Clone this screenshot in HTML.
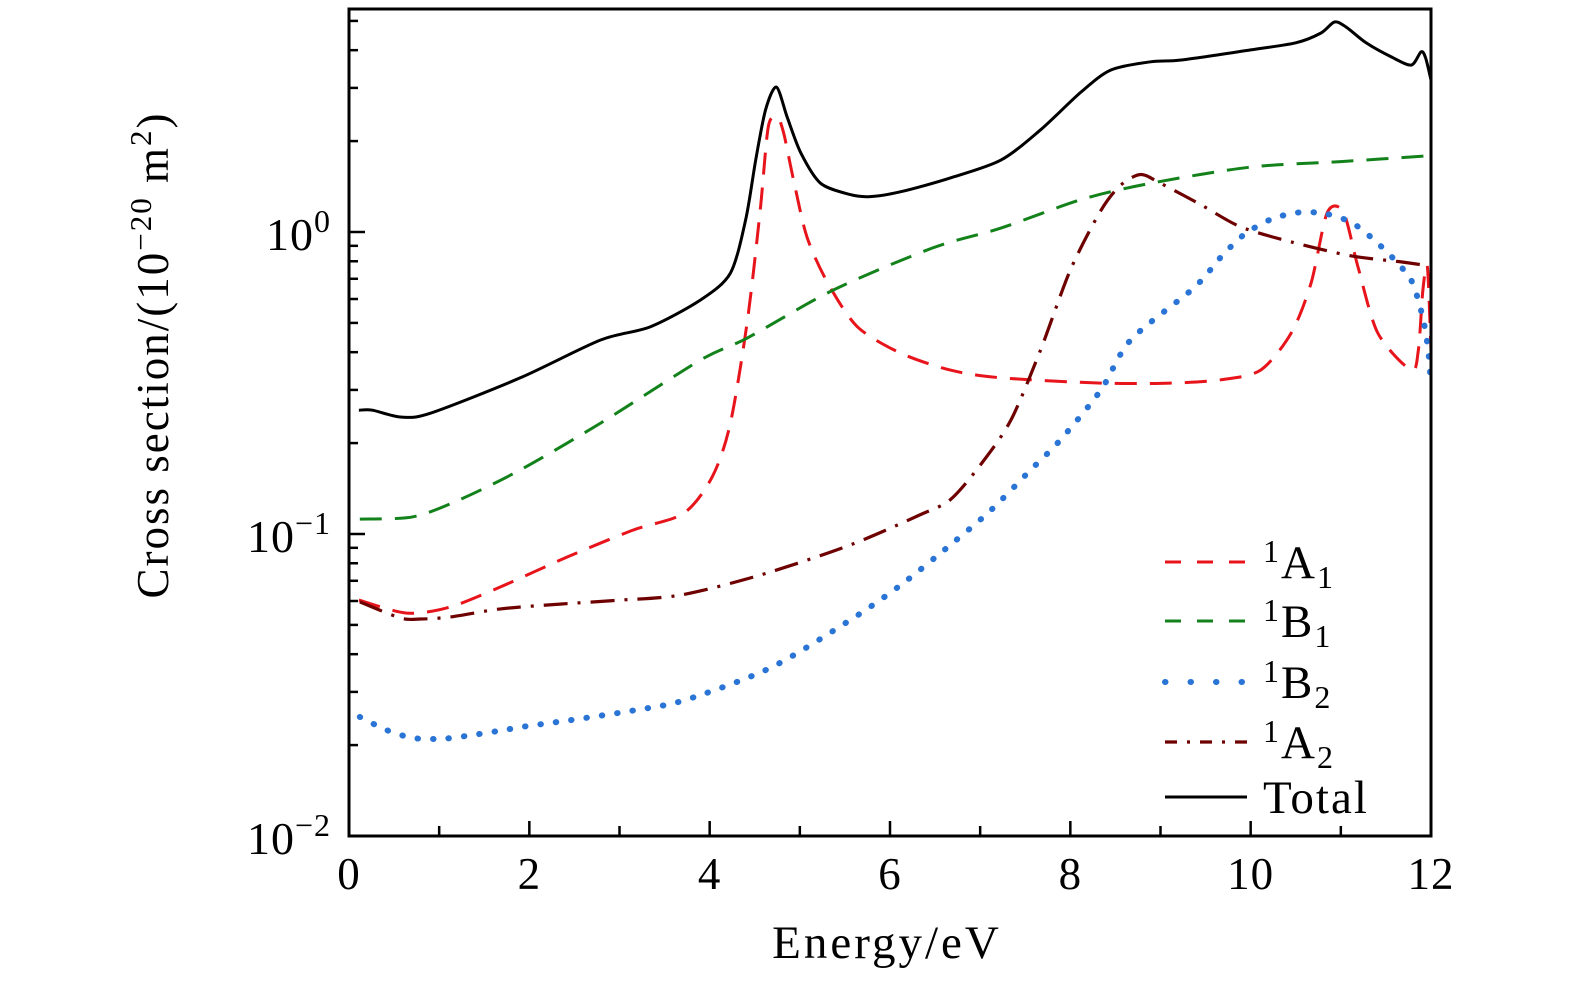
<!DOCTYPE html>
<html><head><meta charset="utf-8"><style>
html,body{margin:0;padding:0;background:#fff;}
svg{display:block;font-family:"Liberation Serif",serif;}
</style></head><body>
<svg id="chart" width="1575" height="984" viewBox="0 0 1575 984" xmlns="http://www.w3.org/2000/svg">
<g id="series"></g>
<g id="axes"></g>
<g id="legend"></g>
<text x="887" y="958" font-size="47" letter-spacing="3" text-anchor="middle">Energy/eV</text>
<text transform="translate(168,355) rotate(-90)" font-size="45" letter-spacing="2" text-anchor="middle">Cross section/(10<tspan dy="-17" font-size="31">−20</tspan><tspan dy="17"> m</tspan><tspan dy="-17" font-size="31">2</tspan><tspan dy="17">)</tspan></text>
</svg>
<script>
const totalE=[0.11,0.26,0.57,0.90,1.90,2.79,3.34,3.90,4.23,4.40,4.51,4.62,4.74,4.86,5.01,5.23,5.56,5.78,6.12,6.67,7.23,7.67,8.12,8.45,8.89,9.23,10.0,10.5,10.78,10.93,11.06,11.28,11.56,11.78,11.89,11.94,12.0];
const totalV=[0.257,0.257,0.244,0.251,0.329,0.439,0.485,0.596,0.731,1.10,1.73,2.54,3.02,2.40,1.83,1.45,1.33,1.31,1.36,1.51,1.73,2.18,2.91,3.44,3.66,3.71,4.01,4.23,4.56,4.96,4.77,4.23,3.80,3.57,3.95,3.77,3.19];
const a1E=[0.11,0.64,1.12,1.68,2.42,3.15,3.71,4.03,4.23,4.42,4.56,4.65,4.75,4.82,4.93,5.08,5.31,5.64,6.12,6.67,7.23,8.34,9.11,9.67,10.11,10.45,10.67,10.85,11.03,11.19,11.41,11.78,11.86,11.91,11.96,12.0];
const a1V=[0.0604,0.0547,0.0573,0.0668,0.0839,0.103,0.117,0.155,0.233,0.512,1.18,2.23,2.40,2.13,1.49,0.962,0.678,0.485,0.397,0.349,0.329,0.316,0.316,0.324,0.349,0.463,0.678,1.16,1.16,0.766,0.463,0.349,0.407,0.642,0.766,0.407];
const b1E=[0.12,0.71,1.23,1.90,2.79,3.90,4.42,5.37,6.47,7.23,8.12,8.89,10.0,11.0,12.0];
const b1V=[0.112,0.114,0.130,0.163,0.233,0.377,0.446,0.642,0.885,1.03,1.28,1.45,1.64,1.71,1.79];
const b2E=[0.12,0.42,0.72,1.05,1.37,1.67,1.97,2.46,3.14,3.73,4.67,5.56,6.12,6.67,7.12,7.56,7.89,8.34,8.67,9.37,9.67,9.92,10.22,10.53,10.83,11.13,11.42,11.67,11.80,11.91,11.97,12.0];
const b2V=[0.0248,0.0224,0.0211,0.0210,0.0216,0.0223,0.0231,0.0242,0.0260,0.0282,0.0360,0.0519,0.0678,0.0920,0.120,0.163,0.205,0.300,0.439,0.653,0.826,0.977,1.10,1.16,1.15,1.07,0.912,0.766,0.673,0.519,0.404,0.311];
const a2E=[0.12,0.57,0.79,1.12,1.68,2.34,3.01,3.68,4.56,5.56,6.34,6.67,7.00,7.34,7.67,8.00,8.34,8.56,8.78,9.00,9.45,9.89,10.45,11.11,11.67,12.0];
const a2V=[0.0596,0.0527,0.0523,0.0531,0.0565,0.0586,0.0604,0.0628,0.0731,0.0920,0.116,0.130,0.169,0.238,0.407,0.748,1.18,1.43,1.55,1.45,1.23,1.04,0.927,0.834,0.796,0.771];
const xTicks=[0,2,4,6,8,10,12];
const yDecades=[-2,-1,0];

const NS="http://www.w3.org/2000/svg";
const X0=349,X1=1431,Y0=836,DEC=302,YTOP=9;
function sx(e){return X0+(e/12)*(X1-X0);}
function sy(v){return Y0-(Math.log10(v)+2)*DEC;}
function mk(tag,attrs,parent){const el=document.createElementNS(NS,tag);for(const k in attrs)el.setAttribute(k,attrs[k]);parent.appendChild(el);return el;}
const S=document.getElementById('series'),A=document.getElementById('axes'),L=document.getElementById('legend');
const defs=mk('defs',{},document.getElementById('chart'));
const cp=mk('clipPath',{id:'clip'},defs);
mk('rect',{x:X0,y:YTOP,width:X1-X0,height:Y0-YTOP},cp);
S.setAttribute('clip-path','url(#clip)');
const styles=[
 {E:a1E,V:a1V,c:'#e8141b',d:'22 13',w:3,cap:'butt',n:'series-1a1'},
 {E:b1E,V:b1V,c:'#13821b',d:'22 13',w:3,cap:'butt',n:'series-1b1'},
 {E:b2E,V:b2V,c:'#2a74d6',d:'0.5 15',w:6,cap:'round',n:'series-1b2'},
 {E:a2E,V:a2V,c:'#6e0000',d:'24 10 3 10',w:3.2,cap:'butt',n:'series-1a2'},
 {E:totalE,V:totalV,c:'#000',d:'none',w:3,cap:'butt',n:'series-total'}
];
function smoothPath(pts){
 let d='M'+pts[0][0].toFixed(1)+','+pts[0][1].toFixed(1);
 for(let i=0;i<pts.length-1;i++){
  const p0=pts[Math.max(0,i-1)],p1=pts[i],p2=pts[i+1],p3=pts[Math.min(pts.length-1,i+2)];
  const t=0.14;
  const c1=[p1[0]+(p2[0]-p0[0])*t,p1[1]+(p2[1]-p0[1])*t];
  const c2=[p2[0]-(p3[0]-p1[0])*t,p2[1]-(p3[1]-p1[1])*t];
  d+=' C'+c1[0].toFixed(1)+','+c1[1].toFixed(1)+' '+c2[0].toFixed(1)+','+c2[1].toFixed(1)+' '+p2[0].toFixed(1)+','+p2[1].toFixed(1);
 }
 return d;
}
styles.forEach(s=>{
 const pts=s.E.map((e,i)=>[sx(e),sy(s.V[i])]);
 const p=mk('path',{d:smoothPath(pts),fill:'none',stroke:s.c,'stroke-width':s.w,'stroke-dasharray':s.d,'stroke-linecap':s.cap,'stroke-linejoin':'round'},S);
 
 
});
const fr=mk('rect',{x:X0,y:YTOP,width:X1-X0,height:Y0-YTOP,fill:'none',stroke:'#000','stroke-width':3},A);


for(let e=0;e<=12;e++){
 const major=e%2===0;
 const t=mk('line',{x1:sx(e),x2:sx(e),y1:Y0,y2:Y0-(major?15:10),stroke:'#000','stroke-width':2.5},A);
 
 
}
xTicks.forEach(e=>{
 const t=mk('text',{x:sx(e),y:889,'font-size':45,'letter-spacing':1,'text-anchor':'middle'},A);
 t.textContent=String(e);
 
 
});
for(let dcd=-2;dcd<=0;dcd++){
 for(let m=1;m<=9;m++){
  const v=m*Math.pow(10,dcd);const y=sy(v);
  if(y<YTOP+2)continue;
  const t=mk('line',{x1:X0,x2:X0+(m===1?16:9),y1:y,y2:y,stroke:'#000','stroke-width':2.5},A);
  
  
 }
}
yDecades.forEach(dcd=>{
 const y=sy(Math.pow(10,dcd));
 const t=mk('text',{x:331,y:y+18,'font-size':46,'letter-spacing':1,'text-anchor':'end'},A);
 t.innerHTML='10<tspan dy="-18" font-size="32">'+(dcd<0?'−'+(-dcd):'0')+'</tspan>';
 
 
});
const legLabels=[['A','1'],['B','1'],['B','2'],['A','2'],['Total','']];
const legY=[562,621,682,742,797];
styles.forEach((s,i)=>{
 const y=legY[i];
 const ln=mk('line',{x1:1165,x2:1247,y1:y,y2:y,stroke:s.c,'stroke-width':s.w,'stroke-dasharray':s.n==='series-1b2'?'0.5 25':(s.n==='series-1a2'?'12 10 3 10':(s.d==='none'?'none':'16 16')),'stroke-linecap':s.cap},L);
 
 
 const t=mk('text',{x:1263,y:y+16,'font-size':47,'letter-spacing':2},L);
 if(legLabels[i][1]) t.innerHTML='<tspan dy="-16" font-size="32">1</tspan><tspan dy="16">'+legLabels[i][0]+'</tspan><tspan dy="10" font-size="32">'+legLabels[i][1]+'</tspan>';
 else t.textContent='Total';
 
 
});
</script>
</body></html>
